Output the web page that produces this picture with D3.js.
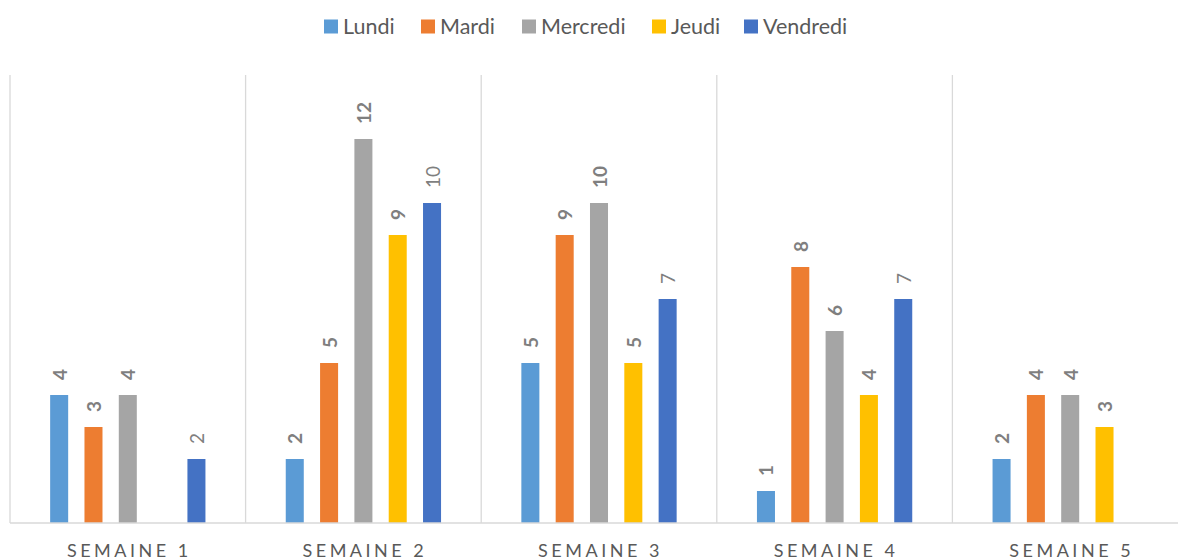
<!DOCTYPE html>
<html>
<head>
<meta charset="utf-8">
<script src="https://cdn.jsdelivr.net/npm/d3@7"></script>
<style>
  body { margin: 0; background: #fff; }
  svg { font-family: Lato, "Open Sans", sans-serif; }
</style>
</head>
<body>
<svg width="1178" height="560"></svg>
<script>
const weeks = ['SEMAINE 1', 'SEMAINE 2', 'SEMAINE 3', 'SEMAINE 4', 'SEMAINE 5'];
const days = ['Lundi', 'Mardi', 'Mercredi', 'Jeudi', 'Vendredi'];
const colors = ['#5B9BD5', '#ED7D31', '#A5A5A5', '#FFC000', '#4472C4'];

// one array per day, one value per week (null = no bar)
const lundi = [4, 2, 5, 1, 2];
const mardi = [3, 5, 9, 8, 4];
const mercredi = [4, 12, 10, 6, 4];
const jeudi = [null, 9, 5, 4, 3];
const vendredi = [2, 10, 7, 7, null];
const series = [lundi, mardi, mercredi, jeudi, vendredi];

const svg = d3.select('svg');
const plotLeft = 10, plotRight = 1188, plotTop = 75, plotBottom = 523;

const x0 = d3.scaleBand().domain(weeks).range([plotLeft, plotRight]);
const x1 = d3.scaleBand().domain(days).range([0, x0.bandwidth()])
  .paddingInner(0.475).paddingOuter(1.17);
const y = d3.scaleLinear().domain([0, 14]).range([plotBottom, plotTop]);

// vertical separators
const seps = weeks.map(w => x0(w)).concat([plotRight]);
svg.append('g').selectAll('line').data(seps).enter().append('line')
  .attr('x1', d => d).attr('x2', d => d)
  .attr('y1', plotTop).attr('y2', plotBottom)
  .attr('stroke', '#D9D9D9').attr('stroke-width', 1.3);

const rows = [];
weeks.forEach((w, i) => {
  days.forEach((d, j) => {
    if (series[j][i] != null) rows.push({ week: w, day: d, j, value: series[j][i] });
  });
});

svg.append('g').selectAll('rect').data(rows).enter().append('rect')
  .attr('x', d => x0(d.week) + x1(d.day))
  .attr('y', d => y(d.value))
  .attr('width', x1.bandwidth())
  .attr('height', d => plotBottom - y(d.value))
  .attr('fill', d => colors[d.j]);

svg.append('g').selectAll('text').data(rows).enter().append('text')
  .attr('transform', d => `translate(${x0(d.week) + x1(d.day) + x1.bandwidth() / 2},${y(d.value) - 15}) rotate(-90)`)
  .attr('dominant-baseline', 'central')
  .attr('font-size', 19)
  .attr('font-weight', d => d.day === 'Vendredi' ? 'normal' : 'bold')
  .attr('fill', '#7F7F7F')
  .text(d => d.value);

// baseline
svg.append('line')
  .attr('x1', plotLeft).attr('x2', plotRight).attr('y1', plotBottom).attr('y2', plotBottom)
  .attr('stroke', '#D9D9D9').attr('stroke-width', 1.3);

// category labels
svg.append('g').selectAll('text').data(weeks).enter().append('text')
  .attr('x', d => x0(d) + x0.bandwidth() / 2 + 1.5)
  .attr('y', 557)
  .attr('text-anchor', 'middle')
  .attr('font-size', 18)
  .attr('letter-spacing', 3.5)
  .attr('fill', '#595959')
  .text(d => d);

// legend
const legendX = [324, 421, 522, 652, 744];
const legend = svg.append('g').selectAll('g').data(days).enter().append('g')
  .attr('transform', (d, i) => `translate(${legendX[i]},19.5)`);
legend.append('rect').attr('width', 14).attr('height', 14).attr('fill', (d, i) => colors[i]);
legend.append('text')
  .attr('x', 19).attr('y', 14.5)
  .attr('font-size', 21.5)
  .attr('fill', '#595959')
  .text(d => d);
</script>
</body>
</html>
